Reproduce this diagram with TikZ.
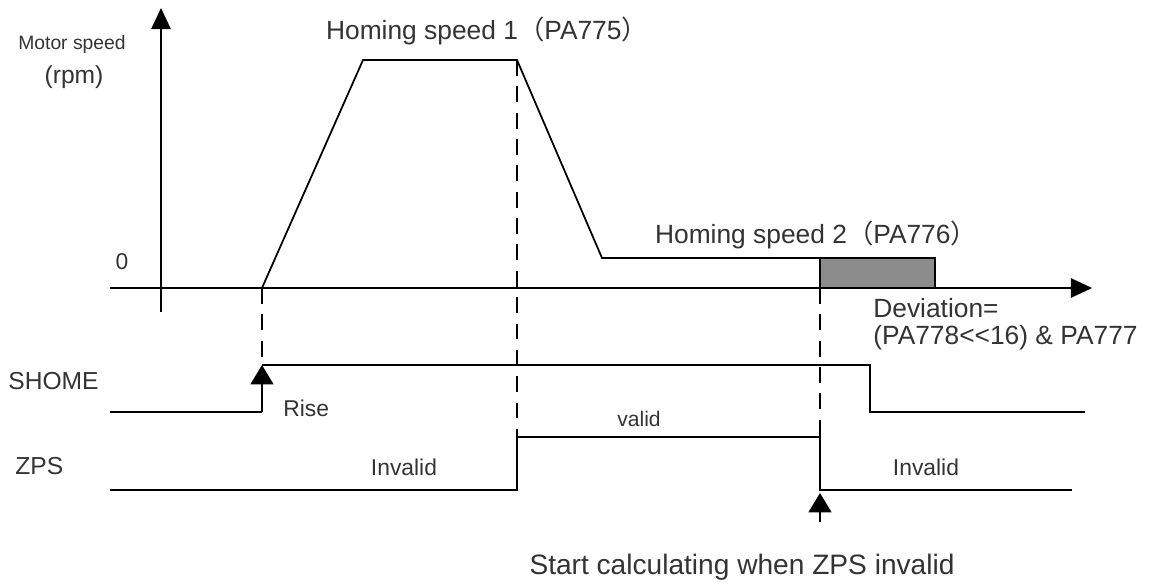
\documentclass[tikz,border=0pt]{standalone}
\usepackage{fontspec}
\setmainfont{Liberation Sans}
\newfontfamily\cjk{Noto Sans CJK SC}
\usetikzlibrary{arrows.meta}
\definecolor{boxgray}{RGB}{140,140,140}
\tikzset{
  sig/.style={line width=1pt, line join=miter},
  guide/.style={line width=1pt, dash pattern=on 9pt off 6pt},
  axis/.style={line width=1pt, -{Triangle[length=12pt,width=11pt]}},
  mark arrow/.style={line width=1pt, -{Triangle[length=11pt,width=13pt]}},
  lbl/.style={inner sep=0pt, text=black!80},
}
\begin{document}
\begin{tikzpicture}[x=0.02cm, y=-0.02cm]
\useasboundingbox (0,0) rectangle (1170,585);
% key points
\coordinate (yb) at (161,312);
\coordinate (yt) at (161,8);
\coordinate (xl) at (110,288);
\coordinate (xr) at (1092,288);
\coordinate (s0) at (262,288);
\coordinate (s1) at (363,60);
\coordinate (s2) at (517,60);
\coordinate (s3) at (602,258);
\coordinate (s4) at (820,258);
\coordinate (b1) at (820,288);
\coordinate (b2) at (935,258);
% axes
\draw[axis] (yb) -- (yt);
\draw[axis] (xl) -- (xr);
% speed profile
\draw[sig] (s0) -- (s1) -- (s2) -- (s3) -- (s4);
\draw[sig, fill=boxgray] (b1) rectangle (b2);
% SHOME
\coordinate (h0) at (110,412);
\coordinate (h1) at (262,412);
\coordinate (h2) at (262,365);
\coordinate (h3) at (870,365);
\coordinate (h4) at (870,412);
\coordinate (h5) at (1085,412);
\draw[sig] (h0) -- (h1);
\draw[mark arrow] (h1) -- (h2);
\draw[sig] (h2) -- (h3) -- (h4) -- (h5);
% ZPS
\coordinate (z0) at (110,490);
\coordinate (z1) at (517,490);
\coordinate (z2) at (517,437);
\coordinate (z3) at (820,437);
\coordinate (z4) at (820,490);
\coordinate (z5) at (1072,490);
\draw[sig] (z0) -- (z1) -- (z2) -- (z3) -- (z4) -- (z5);
% guides
\draw[guide] (s0) -- (h2);
\draw[guide] (s2) -- (z2);
\draw[guide] (b1) -- (z3);
% start arrow
\coordinate (a0) at (820,522);
\coordinate (a1) at (820,493);
\draw[mark arrow] (a0) -- (a1);
% labels
\node[lbl, font=\fontsize{11}{13}\selectfont] (motor) at (72,45) {Motor speed};
\node[lbl, font=\fontsize{14}{16}\selectfont] (rpm) at (74,77) {(rpm)};
\node[lbl, font=\fontsize{13}{15}\selectfont] (zero) at (122,262) {0};
\node[lbl, font=\fontsize{15}{17}\selectfont] (hs1) at (487,31) {Homing speed 1{\cjk（}PA775{\cjk）}};
\node[lbl, font=\fontsize{15}{17}\selectfont] (hs2) at (816,235) {Homing speed 2{\cjk（}PA776{\cjk）}};
\node[lbl, font=\fontsize{15}{17}\selectfont, anchor=west] (dev1) at (873,308) {Deviation=};
\node[lbl, font=\fontsize{15}{17}\selectfont, anchor=west] (dev2) at (873,338) {(PA778{<}{<}16) \& PA777};
\node[lbl, font=\fontsize{14}{16}\selectfont, anchor=west] (shome) at (8,381) {SHOME};
\node[lbl, font=\fontsize{13}{15}\selectfont, anchor=west] (rise) at (283,408) {Rise};
\node[lbl, font=\fontsize{12}{14}\selectfont] (valid) at (639,419) {valid};
\node[lbl, font=\fontsize{14}{16}\selectfont, anchor=west] (zps) at (15,466) {ZPS};
\node[lbl, font=\fontsize{13}{15}\selectfont] (inv1) at (404,467) {Invalid};
\node[lbl, font=\fontsize{13}{15}\selectfont] (inv2) at (926,467) {Invalid};
\node[lbl, font=\fontsize{16}{18}\selectfont] (start) at (742,567) {Start calculating when ZPS invalid};
\end{tikzpicture}
\end{document}
